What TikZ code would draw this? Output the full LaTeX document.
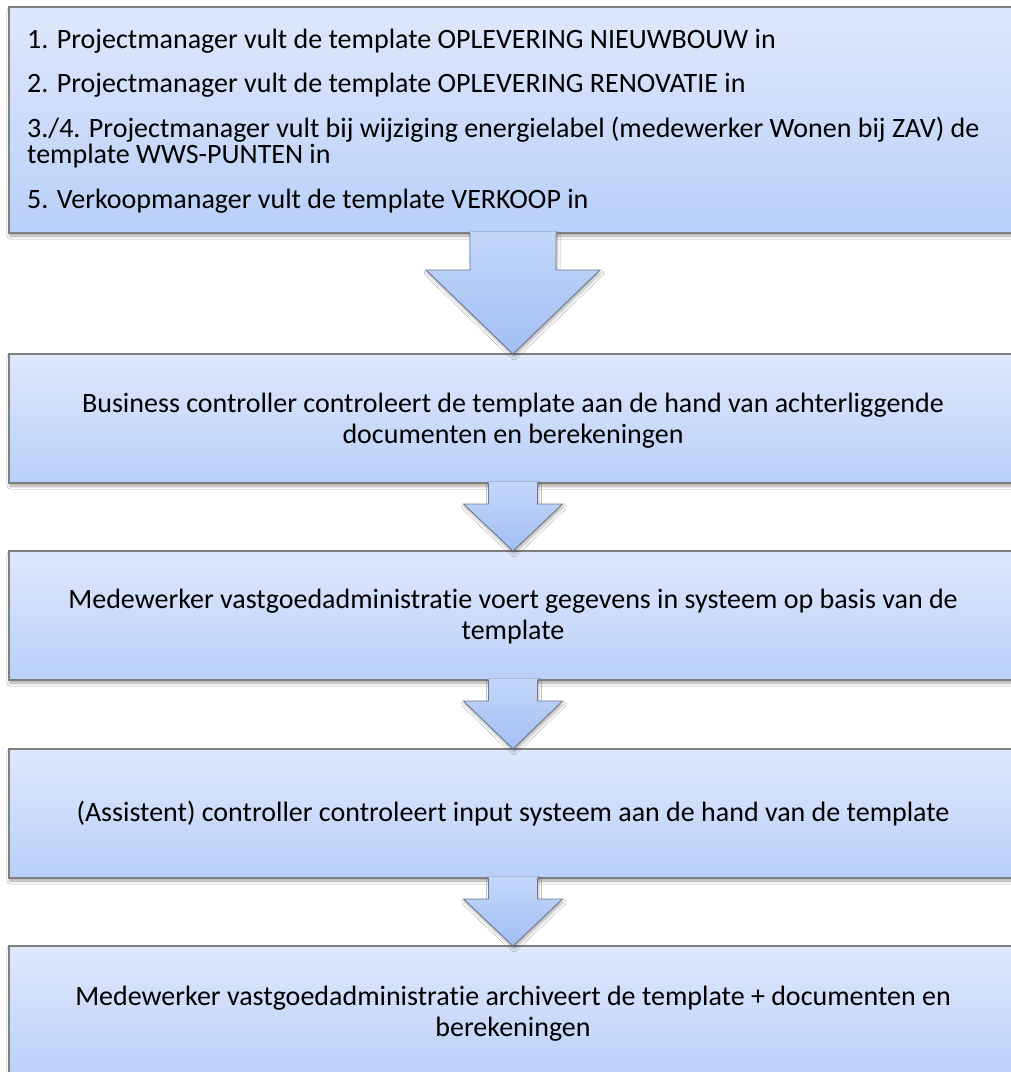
\documentclass[tikz,border=0pt]{standalone}
\usepackage{fontspec}
\setmainfont{Carlito}[Ligatures={NoCommon,NoContextual}]
\usetikzlibrary{calc,shadows.blur}
\definecolor{boxtop}{HTML}{DFE8FB}
\definecolor{boxbot}{HTML}{B9CFF8}
\definecolor{boxline}{HTML}{7F7F7F}
\definecolor{arrtop}{HTML}{C3D7F9}
\definecolor{arrbot}{HTML}{A2BEF3}
\definecolor{arrline}{HTML}{6F7A8C}
\newcommand\itemfont{\fontsize{28}{26.5}\selectfont\lineskiplimit=-100pt\relax}
\newcommand\flowarrow[5]{%
  \path[arrowfill] ($(#1.south west)+(504-#3,-1.5)$) -- ($(#1.south west)+(504-#3,#4)$) -- ($(#1.south west)+(504-#5,#4)$)
     -- ($(#2.north west)+(504,0)$) -- ($(#1.south west)+(504+#5,#4)$) -- ($(#1.south west)+(504+#3,#4)$) -- ($(#1.south west)+(504+#3,-1.5)$) -- cycle;
  \draw[arrowline] ($(#1.south west)+(504-#3,0)$) -- ($(#1.south west)+(504-#3,#4)$) -- ($(#1.south west)+(504-#5,#4)$)
     -- ($(#2.north west)+(504,0)$) -- ($(#1.south west)+(504+#5,#4)$) -- ($(#1.south west)+(504+#3,#4)$) -- ($(#1.south west)+(504+#3,0)$);
}
\begin{document}
\begin{tikzpicture}[x=1pt,y=-1pt,
  flowbox/.style={draw=boxline, line width=1.1pt, top color=boxtop, bottom color=boxbot,
    minimum width=1060pt, minimum height=129pt, inner sep=0pt, outer sep=0pt, anchor=north west,
    blur shadow={shadow xshift=1pt, shadow yshift=-3pt, shadow blur radius=3pt, shadow opacity=35}},
  boxtext/.style={align=center, inner sep=0pt, font=\fontsize{28}{31}\selectfont},
  arrowfill/.style={top color=arrtop, bottom color=arrbot,
    blur shadow={shadow xshift=1pt, shadow yshift=-3pt, shadow blur radius=3pt, shadow opacity=30}},
  arrowline/.style={draw=arrline, line width=0.9pt, line join=miter},
  itemtext/.style={anchor=north west, align=left, inner sep=0pt, font=\itemfont}]
\useasboundingbox (0,0) rectangle (1011,1072);
\clip (0,0) rectangle (1011,1072);
\fill[white] (0,0) rectangle (1011,1072);
\node[flowbox, minimum height=226pt] (b1) at (9,7) {};
\node[flowbox] (b2) at (9,354) {};
\node[flowbox] (b3) at (9,551) {};
\node[flowbox] (b4) at (9,749) {};
\node[flowbox, minimum height=135pt] (b5) at (9,946) {};
\node[itemtext] (t1) at ($(b1.north west)+(18,21.5)$) {1. Projectmanager vult de template OPLEVERING NIEUWBOUW in\\[18pt]
2. Projectmanager vult de template OPLEVERING RENOVATIE in\\[18pt]
3./4. Projectmanager vult bij wijziging energielabel (medewerker Wonen bij ZAV) de\\
template WWS-PUNTEN in\\[18pt]
5. Verkoopmanager vult de template VERKOOP in};
\node[boxtext] (t2) at ($(b2.west)+(504,2)$) {Business controller controleert de template aan de hand van achterliggende\\documenten en berekeningen};
\node[boxtext] (t3) at ($(b3.west)+(504,1)$) {Medewerker vastgoedadministratie voert gegevens in systeem op basis van de\\template};
\node[boxtext] (t4) at ($(b4.west)+(504,0)$) {(Assistent) controller controleert input systeem aan de hand van de template};
\node[boxtext] (t5) at ($(b5.west)+(504,0)$) {Medewerker vastgoedadministratie archiveert de template + documenten en\\berekeningen};
\flowarrow{b1}{b2}{43}{37}{87}
\flowarrow{b2}{b3}{24.5}{21}{49.5}
\flowarrow{b3}{b4}{24.5}{21}{49.5}
\flowarrow{b4}{b5}{24.5}{21}{49.5}
\end{tikzpicture}
\end{document}
